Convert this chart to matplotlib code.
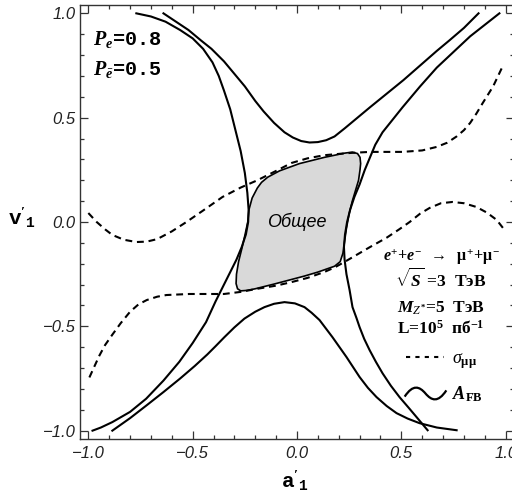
import numpy as np
import matplotlib
matplotlib.use('Agg')
import matplotlib.pyplot as plt
from matplotlib.lines import Line2D
from matplotlib.path import Path
from matplotlib.ticker import MultipleLocator

plt.rcParams['mathtext.fontset'] = 'custom'
plt.rcParams['mathtext.rm'] = 'Liberation Serif:bold'
plt.rcParams['mathtext.it'] = 'Liberation Serif:italic'
plt.rcParams['mathtext.bf'] = 'Liberation Serif:bold'
plt.rcParams['mathtext.bfit'] = 'Liberation Serif:italic:bold'
plt.rcParams['mathtext.tt'] = 'Liberation Mono:bold'

# A_FB contours: upper branch, lower branch, left and right branches
afb_up_a = [-0.64, -0.58, -0.52, -0.46, -0.41, -0.35, -0.30, -0.25, -0.20, -0.16, -0.11, -0.06, -0.02,
            0.02, 0.06, 0.10, 0.14, 0.18, 0.23, 0.29, 0.35, 0.43, 0.51, 0.59, 0.67, 0.73, 0.80, 0.87]
afb_up_v = [1.0, 0.96, 0.92, 0.87, 0.83, 0.77, 0.71, 0.65, 0.58, 0.53, 0.475, 0.43, 0.405,
            0.388, 0.381, 0.383, 0.392, 0.41, 0.45, 0.50, 0.55, 0.615, 0.68, 0.75, 0.82, 0.87, 0.93, 1.0]

afb_lo_a = [-0.885, -0.80, -0.72, -0.64, -0.56, -0.49, -0.43, -0.39, -0.348, -0.30, -0.252, -0.20, -0.156,
            -0.11, -0.06, -0.01, 0.036, 0.07, 0.108, 0.17, 0.237, 0.30, 0.34, 0.381, 0.43, 0.477, 0.53,
            0.587, 0.67, 0.765]
afb_lo_v = [-1.0, -0.94, -0.878, -0.815, -0.75, -0.69, -0.635, -0.595, -0.552, -0.505, -0.463, -0.43, -0.408,
            -0.392, -0.384, -0.39, -0.408, -0.435, -0.47, -0.552, -0.647, -0.743, -0.795, -0.839, -0.882,
            -0.916, -0.942, -0.964, -0.985, -0.998]

afb_l_a = [-0.77, -0.70, -0.63, -0.56, -0.50, -0.45, -0.405, -0.375, -0.35, -0.32, -0.295, -0.27, -0.25,
           -0.238, -0.232, -0.234, -0.245, -0.265, -0.29, -0.32, -0.348, -0.39, -0.436, -0.50, -0.564,
           -0.64, -0.723, -0.80, -0.885, -0.94, -0.98]
afb_l_v = [1.0, 0.985, 0.96, 0.92, 0.88, 0.83, 0.765, 0.70, 0.63, 0.54, 0.44, 0.34, 0.235,
           0.14, 0.06, 0.0, -0.06, -0.12, -0.18, -0.24, -0.296, -0.38, -0.48, -0.58, -0.67,
           -0.76, -0.847, -0.91, -0.959, -0.985, -1.0]

afb_r_a = [0.97, 0.90, 0.83, 0.75, 0.67, 0.59, 0.506, 0.45, 0.41, 0.375, 0.35, 0.325, 0.30, 0.275, 0.255,
           0.24, 0.23, 0.225, 0.228, 0.237, 0.252, 0.266, 0.285, 0.30, 0.322, 0.348, 0.378, 0.41, 0.45,
           0.492, 0.535, 0.573, 0.626]
afb_r_v = [1.0, 0.945, 0.89, 0.815, 0.74, 0.65, 0.55, 0.48, 0.43, 0.37, 0.31, 0.25, 0.18, 0.12, 0.06,
           0.0, -0.06, -0.12, -0.18, -0.25, -0.326, -0.408, -0.46, -0.504, -0.56, -0.614, -0.67, -0.725, -0.785,
           -0.84, -0.89, -0.935, -0.998]

# sigma_mumu contours
sig1_a = [-1.0, -0.96, -0.92, -0.885, -0.83, -0.77, -0.72, -0.67, -0.60, -0.53, -0.45, -0.357, -0.27, -0.19,
          -0.10, -0.026, 0.05, 0.13, 0.24, 0.35, 0.506, 0.60, 0.67, 0.72, 0.765, 0.80, 0.83, 0.86, 0.89,
          0.94, 0.985]
sig1_v = [0.043, 0.0, -0.035, -0.062, -0.085, -0.096, -0.094, -0.082, -0.045, 0.0, 0.055, 0.12, 0.165, 0.20,
          0.245, 0.283, 0.305, 0.32, 0.33, 0.336, 0.336, 0.343, 0.36, 0.38, 0.41, 0.44, 0.475, 0.52, 0.57,
          0.65, 0.745]

sig2_a = [-0.995, -0.97, -0.947, -0.92, -0.885, -0.845, -0.80, -0.76, -0.72, -0.67, -0.626, -0.516, -0.35,
          -0.27, -0.19, -0.10, -0.026, 0.05, 0.13, 0.18, 0.23, 0.29, 0.35, 0.43, 0.49, 0.54, 0.59, 0.635,
          0.69, 0.745, 0.80, 0.86, 0.91, 0.957, 1.0]
sig2_v = [-0.745, -0.69, -0.64, -0.59, -0.54, -0.485, -0.43, -0.395, -0.374, -0.358, -0.35, -0.345, -0.345,
          -0.335, -0.32, -0.305, -0.288, -0.268, -0.24, -0.218, -0.19, -0.155, -0.12, -0.075, -0.035, 0.0,
          0.04, 0.067, 0.09, 0.096, 0.09, 0.072, 0.045, 0.01, -0.045]

# common allowed region
com_a = [-0.236, -0.23, -0.215, -0.19, -0.17, -0.14, -0.084, 0.012, 0.132, 0.228, 0.265, 0.29, 0.302, 0.305,
         0.302, 0.295, 0.28, 0.265, 0.25, 0.237, 0.227, 0.22, 0.207, 0.18, 0.10, 0.036, -0.108, -0.20,
         -0.24, -0.27, -0.285, -0.292, -0.29, -0.28, -0.265, -0.25]
com_v = [0.0, 0.06, 0.115, 0.163, 0.19, 0.215, 0.245, 0.28, 0.31, 0.33, 0.335, 0.328, 0.31, 0.28,
         0.25, 0.20, 0.15, 0.10, 0.04, -0.03, -0.10, -0.15, -0.19, -0.212, -0.24, -0.259, -0.297, -0.32,
         -0.328, -0.33, -0.32, -0.295, -0.25, -0.19, -0.13, -0.065]

fig = plt.figure(figsize=(5.12, 4.95), dpi=100)
ax = fig.add_axes([80/512, 56/495, 434/512, 434/495])

ax.fill(com_a, com_v, facecolor='#d9d9d9', edgecolor='k', lw=1.2, zorder=1)
for a, v in [(afb_up_a, afb_up_v), (afb_lo_a, afb_lo_v), (afb_l_a, afb_l_v), (afb_r_a, afb_r_v)]:
    ax.plot(a, v, color='k', lw=1.5, zorder=3, solid_joinstyle='round')
for a, v in [(sig1_a, sig1_v), (sig2_a, sig2_v)]:
    ax.plot(a, v, color='k', lw=1.5, ls=(0, (3.3, 2.3)), zorder=2)

ax.text(0.0, 0.0, 'Общее', family='Liberation Sans', style='italic', fontsize=13,
        ha='center', va='center', zorder=4)

ax.text(-0.98, 0.849, r'$\mathbfit{P}_{\mathbfit{e}}$=0.8', family='Liberation Mono', weight='bold',
        fontsize=14.5, ha='left', va='baseline')
ax.text(-0.98, 0.705, r'$\mathbfit{P}_{\bar{\mathbfit{e}}}$=0.5', family='Liberation Mono', weight='bold',
        fontsize=14.5, ha='left', va='baseline')

tx = 0.69
ax.text(tx, -0.186, r'$\mathbfit{e}^{+}\!+\!\mathbfit{e}^{-}\ \ \rightarrow\ \ \mathrm{\mu}^{+}\!+\!\mathrm{\mu}^{-}$',
        fontsize=11.5, ha='center', va='baseline')
ax.text(tx, -0.31, r'$\sqrt{\mathbfit{S}}$ =3  ТэВ', family='Liberation Serif', weight='bold',
        fontsize=12.5, ha='center', va='baseline')
ax.text(tx, -0.435, r'$\mathbfit{M}_{Z^{*}}$=5  ТэВ', family='Liberation Serif', weight='bold',
        fontsize=12.5, ha='center', va='baseline')
ax.text(tx, -0.533, r'L=10$^{5}$  пб$^{-1}$', family='Liberation Serif', weight='bold',
        fontsize=12.5, ha='center', va='baseline')

# wavy legend glyph for the A_FB contours
tilde = Path([(-1.0, -0.15), (-0.6, 0.45), (-0.3, 0.35), (0.0, 0.0), (0.3, -0.35), (0.6, -0.45), (1.0, 0.15)],
             [Path.MOVETO] + [Path.CURVE4] * 6)
handles = [Line2D([], [], color='k', lw=1.5, ls=(0, (2.0, 2.5))),
           Line2D([], [], color='k', ls='none', marker=tilde, markersize=30,
                  markerfacecolor='none', markeredgewidth=1.6)]
ax.legend(handles, [r'$\sigma_{\mathrm{\mu\mu}}$', r'$\mathbfit{A}_{\mathrm{FB}}$'],
          loc='center left', bbox_to_anchor=(0.752, 0.144), frameon=False, fontsize=13,
          handlelength=2.1, handletextpad=0.45, labelspacing=0.75, borderpad=0, borderaxespad=0)

ax.set_xlim(-1.04, 1.04)
ax.set_ylim(-1.04, 1.04)
ax.xaxis.set_major_locator(MultipleLocator(0.5))
ax.yaxis.set_major_locator(MultipleLocator(0.5))
ax.xaxis.set_minor_locator(MultipleLocator(0.1))
ax.yaxis.set_minor_locator(MultipleLocator(0.1))
ax.tick_params(which='both', direction='in', top=True, right=True, color='#333333', width=0.9)
ax.tick_params(which='major', length=6, labelsize=12)
ax.tick_params(axis='y', which='major', pad=3)
ax.tick_params(axis='x', which='major', pad=5)
ax.tick_params(which='minor', length=3)
for lab in ax.get_xticklabels() + ax.get_yticklabels():
    lab.set_family('Liberation Sans')
    lab.set_style('italic')
    lab.set_color('#222222')
for sp in ax.spines.values():
    sp.set_color('#333333')
    sp.set_linewidth(1.0)

ax.set_xlabel(r"$\mathtt{a}'_{\mathtt{1}}$", fontsize=15, va='baseline')
ax.xaxis.set_label_coords(0.495, -0.112)
ax.set_ylabel(r"$\mathtt{v}'_{\mathtt{1}}$", fontsize=15, rotation=0, va='center', ha='center')
ax.yaxis.set_label_coords(-0.134, 0.51)

fig.savefig('out.png', dpi=100)
